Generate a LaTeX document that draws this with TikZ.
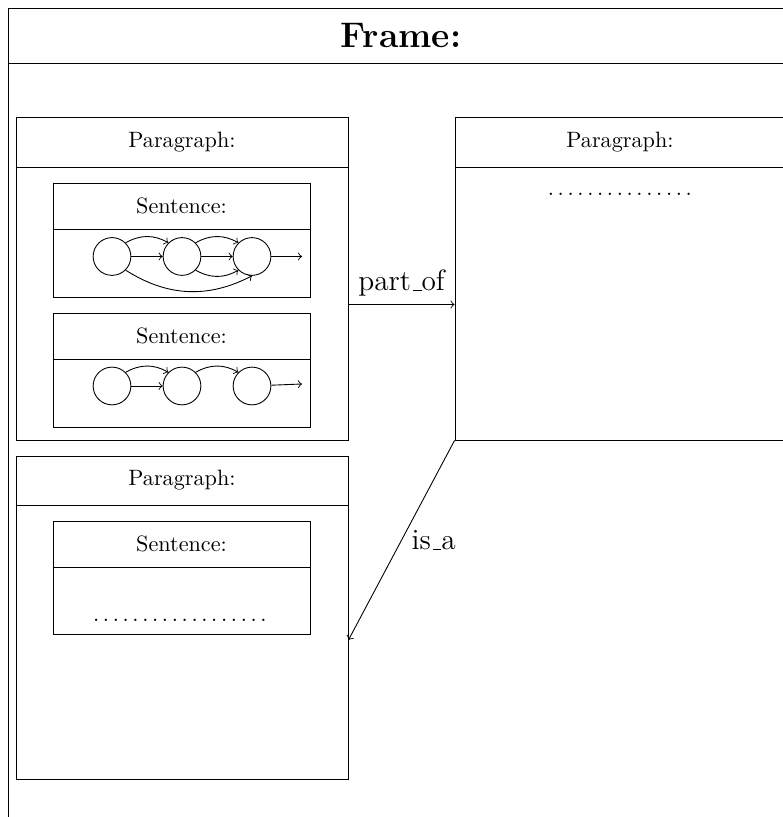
\documentclass[tikz,border=0pt]{standalone}
\usetikzlibrary{fit}
\newcommand{\lowbar}{\leavevmode\kern.06em\vbox{\hrule width.3em}}
\tikzset{
  box/.style={draw, rectangle, inner sep=0pt},
  word/.style={circle, draw=black, inner sep=0pt, minimum size=17pt},
  rel/.style={font=\fontsize{13.2}{16}\selectfont},
}
\begin{document}
\begin{tikzpicture}[x=0.4505pt, y=0.4505pt]
\useasboundingbox (0,0) rectangle (782,817);

% frame
\node[box, fit={(8,-20) (794,809)}] (frame) {};
\draw (frame.west |- 0,754) -- (frame.east |- 0,754);
\node[font=\fontsize{16}{19}\selectfont\bfseries] (frameTitle) at (401,781.5) {Frame:};

% paragraph 1
\node[box, fit={(16,377) (348,700)}] (par1) {};
\draw (par1.west |- 0,650) -- (par1.east |- 0,650);
\node (par1Title) at (182,675) {Paragraph:};

% sentence 1
\node[box, fit={(53,520) (310,634)}] (sen1) {};
\draw (sen1.west |- 0,588) -- (sen1.east |- 0,588);
\node (sen1Title) at (181.5,611) {Sentence:};
\node[word] (w11) at (112,560.5) {};
\node[word] (w12) at (182,560.5) {};
\node[word] (w13) at (252,560.5) {};
\coordinate (out1) at (302,560.5);
\draw [->] (w11) -- (w12);
\draw [->] (w11.north east) to[bend left] (w12.north west);
\draw [->] (w12) -- (w13);
\draw [->] (w12.north east) to[bend left] (w13.north west);
\draw [->] (w12.south east) to[bend right] (w13.south west);
\draw [->] (w11.south east) to[bend right] (w13.south);
\draw [->] (w13) -- (out1);

% sentence 2
\node[box, fit={(53,390) (310,504)}] (sen2) {};
\draw (sen2.west |- 0,458) -- (sen2.east |- 0,458);
\node (sen2Title) at (181.5,481) {Sentence:};
\node[word] (w21) at (112,431) {};
\node[word] (w22) at (182,431) {};
\node[word] (w23) at (252,431) {};
\coordinate (out2) at (302,433);
\draw [->] (w21) -- (w22);
\draw [->] (w21.north east) to[bend left] (w22.north west);
\draw [->] (w22.north east) to[bend left] (w23.north west);
\draw [->] (w23) -- (out2);

% paragraph 2
\node[box, fit={(16,38) (348,361)}] (par2) {};
\draw (par2.west |- 0,312) -- (par2.east |- 0,312);
\node (par2Title) at (182,336.5) {Paragraph:};

% sentence 3
\node[box, fit={(53,183) (310,296)}] (sen3) {};
\draw (sen3.west |- 0,250) -- (sen3.east |- 0,250);
\node (sen3Title) at (181.5,273) {Sentence:};
\node (sen3Dots) at (180,197) {$\ldots\ldots\ldots\ldots\ldots\ldots$};

% paragraph 3
\node[box, fit={(455,377) (785,700)}] (par3) {};
\draw (par3.west |- 0,650) -- (par3.east |- 0,650);
\node (par3Title) at (620,675) {Paragraph:};
\node (par3Dots) at (620,623) {$\ldots\ldots\ldots\ldots\ldots$};

% relations
\draw [->] (par1.east |- 0,512.5) -- (par3.west |- 0,512.5) node [midway, above, rel] (partOf) {part\lowbar of};
\draw [->] (par3.south west) -- (par2.east |- 0,177) node [midway, right, rel, xshift=1pt] (isA) {is\lowbar a};
\end{tikzpicture}
\end{document}
